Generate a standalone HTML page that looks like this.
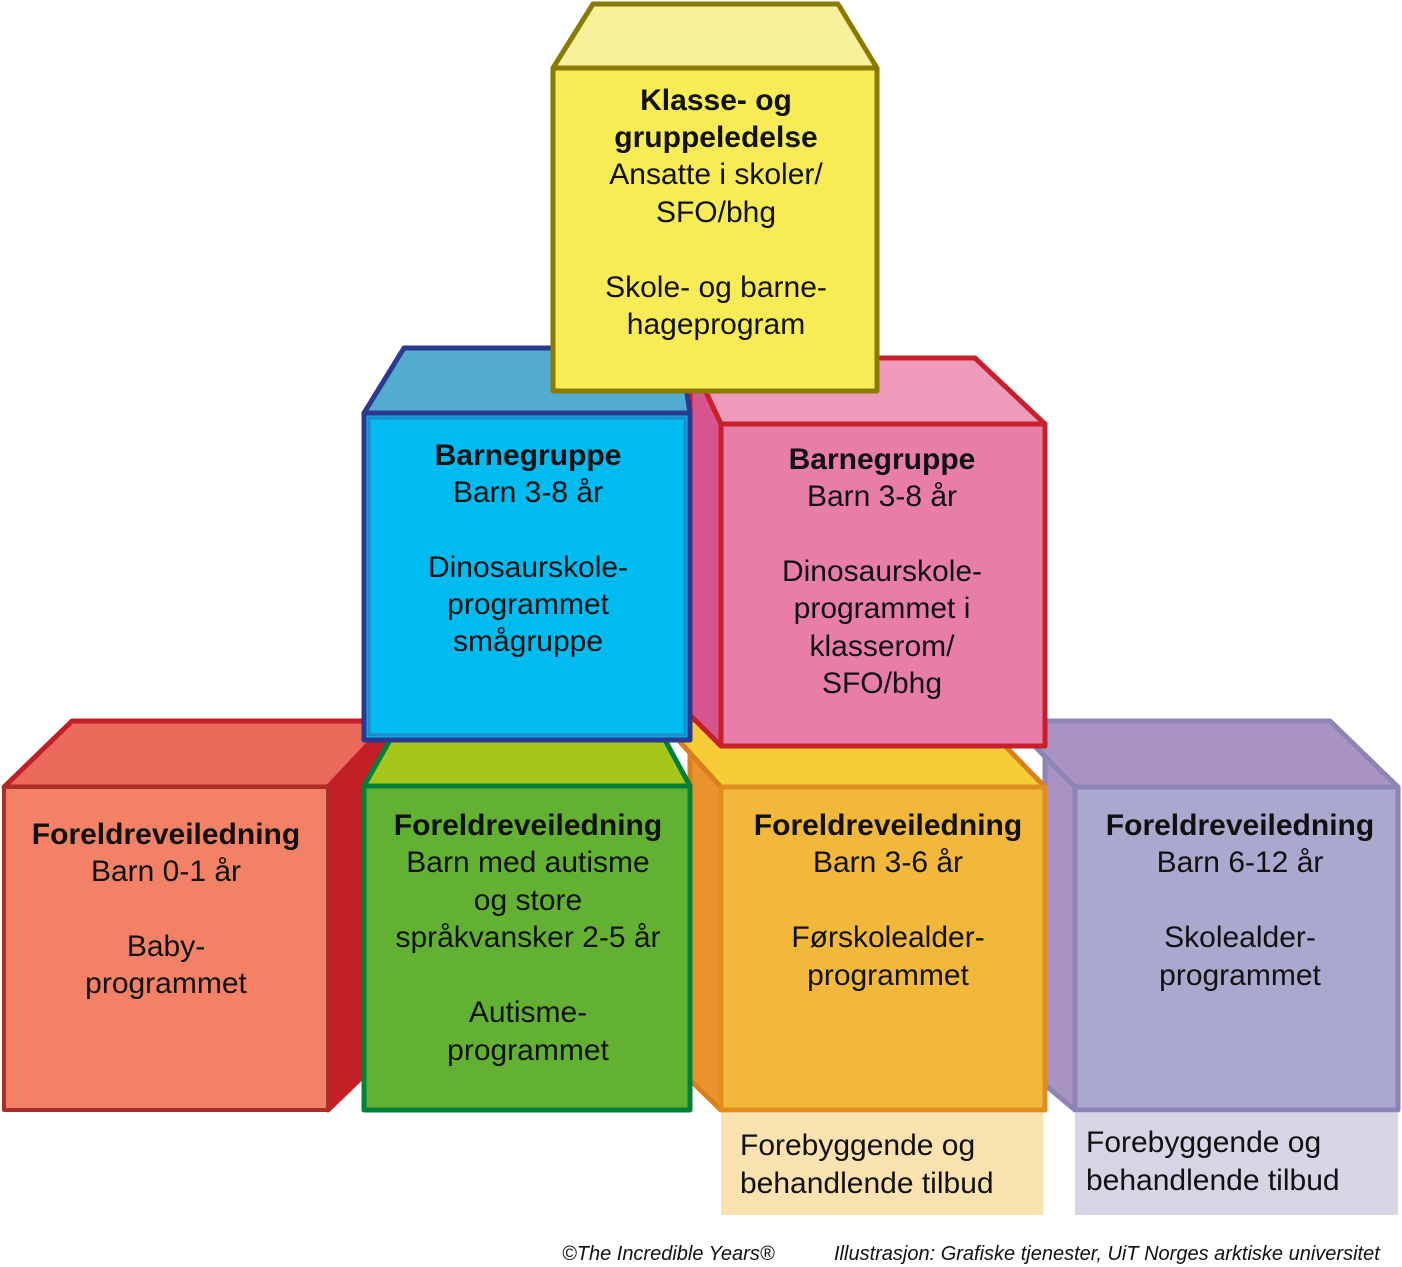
<!DOCTYPE html>
<html><head><meta charset="utf-8"><style>
html,body{margin:0;padding:0;background:#fff;}
svg{display:block;}
text{font-family:"Liberation Sans",sans-serif;font-size:30px;fill:#111;text-anchor:middle;}
.b{font-weight:bold;}
.l{text-anchor:start;}
.c{font-style:italic;font-size:20px;text-anchor:start;}
</style></head><body>
<svg width="1402" height="1267" viewBox="0 0 1402 1267" xmlns="http://www.w3.org/2000/svg">
<g stroke-width="5" stroke-linejoin="round">
<polygon points="328,787 390,721 390,1050 328,1110" fill="#c21f26" stroke="#c21f26"/>
<polygon points="4,787 72,721 390,721 328,787" fill="#ec6a5c" stroke="#c21f26"/>
<rect x="4" y="787" width="324" height="323" fill="#f28166" stroke="#a8302a" stroke-width="4"/>
<polygon points="1010,721 1075,787 1075,1110 1045,1085 1045,740" fill="#a993c3" stroke="#8d85b6"/>
<polygon points="1010,721 1330,721 1398,787 1075,787" fill="#a993c3" stroke="#8d85b6"/>
<rect x="1075" y="787" width="323" height="323" fill="#aaa8cf" stroke="#8d85b6"/>
<polygon points="690,720 721,787 721,1110 690,1080" fill="#ea922c" stroke="#d9801c"/>
<polygon points="660,720 980,720 1045,787 721,787" fill="#f7cd37" stroke="#d9801c"/>
<rect x="721" y="787" width="324" height="323" fill="#f1b83b" stroke="#e08c20"/>
<polygon points="364,786 390,740 665,740 690,786" fill="#a6c61c" stroke="#00813a"/>
<rect x="364" y="786" width="326" height="324" fill="#63b133" stroke="#00813a"/>
<polygon points="690,358 721,424 721,746 690,715" fill="#d6558e" stroke="#c8202a"/>
<polygon points="690,358 975,358 1045,424 721,424" fill="#ee9aba" stroke="#c8202a"/>
<rect x="721" y="424" width="324" height="322" fill="#e87ea8" stroke="#c8202a"/>
<polygon points="364,413 404,348 680,348 690,413" fill="#52acd0" stroke="#2b3990"/>
<rect x="364" y="413" width="326" height="327" fill="#00bbf0" stroke="#2b3990" stroke-width="5"/>
<rect x="369" y="418" width="316" height="317" fill="none" stroke="#1e88c8" stroke-width="3"/>
<polygon points="553,68 593,4 838,4 877,68" fill="#f7f19c" stroke="#8a7a00"/>
<rect x="553" y="68" width="324" height="323" fill="#f7ec55" stroke="#8a7a00"/>
</g>
<rect x="721" y="1113" width="322" height="102" fill="#fae2b0"/>
<rect x="1075" y="1113" width="323" height="102" fill="#d9d3e6"/>

<text class="b" x="716" y="110">Klasse- og</text>
<text class="b" x="716" y="147">gruppeledelse</text>
<text x="716" y="184">Ansatte i skoler/</text>
<text x="716" y="222">SFO/bhg</text>
<text x="716" y="297">Skole- og barne-</text>
<text x="716" y="334">hageprogram</text>

<text class="b" x="528" y="465">Barnegruppe</text>
<text x="528" y="502">Barn 3-8 år</text>
<text x="528" y="577">Dinosaurskole-</text>
<text x="528" y="614">programmet</text>
<text x="528" y="651">smågruppe</text>

<text class="b" x="882" y="469">Barnegruppe</text>
<text x="882" y="506">Barn 3-8 år</text>
<text x="882" y="581">Dinosaurskole-</text>
<text x="882" y="618">programmet i</text>
<text x="882" y="656">klasserom/</text>
<text x="882" y="693">SFO/bhg</text>

<text class="b" x="166" y="844">Foreldreveiledning</text>
<text x="166" y="881">Barn 0-1 år</text>
<text x="166" y="956">Baby-</text>
<text x="166" y="993">programmet</text>

<text class="b" x="528" y="835">Foreldreveiledning</text>
<text x="528" y="872">Barn med autisme</text>
<text x="528" y="910">og store</text>
<text x="528" y="947">språkvansker 2-5 år</text>
<text x="528" y="1022">Autisme-</text>
<text x="528" y="1060">programmet</text>

<text class="b" x="888" y="835">Foreldreveiledning</text>
<text x="888" y="872">Barn 3-6 år</text>
<text x="888" y="947">Førskolealder-</text>
<text x="888" y="985">programmet</text>

<text class="b" x="1240" y="835">Foreldreveiledning</text>
<text x="1240" y="872">Barn 6-12 år</text>
<text x="1240" y="947">Skolealder-</text>
<text x="1240" y="985">programmet</text>

<text class="l" x="740" y="1155">Forebyggende og</text>
<text class="l" x="740" y="1193">behandlende tilbud</text>
<text class="l" x="1086" y="1152">Forebyggende og</text>
<text class="l" x="1086" y="1190">behandlende tilbud</text>

<text class="c" x="562" y="1260">©The Incredible Years®</text>
<text class="c" x="834" y="1260">Illustrasjon: Grafiske tjenester, UiT Norges arktiske universitet</text>
</svg>
</body></html>
